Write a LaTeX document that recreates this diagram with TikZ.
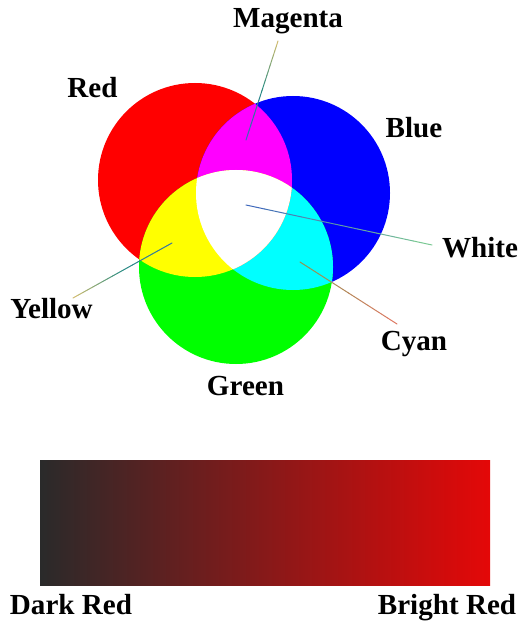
\documentclass[tikz,border=0pt]{standalone}
\usepackage{fontspec}
\setmainfont{Liberation Serif}
\usetikzlibrary{calc}
\definecolor{redlight}{RGB}{255,0,0}
\definecolor{greenlight}{RGB}{0,255,0}
\definecolor{bluelight}{RGB}{0,0,255}
\definecolor{magentalight}{RGB}{255,0,255}
\definecolor{yellowlight}{RGB}{255,255,0}
\definecolor{cyanlight}{RGB}{0,255,255}
\definecolor{darkend}{RGB}{42,42,42}
\definecolor{midend}{RGB}{118,26,28}
\definecolor{brightend}{RGB}{228,8,8}
\definecolor{tanline}{RGB}{215,190,110}
\definecolor{tealline}{RGB}{40,140,130}
\definecolor{blueline}{RGB}{60,100,190}
\definecolor{greenline}{RGB}{125,205,145}
\definecolor{oliveline}{RGB}{140,150,80}
\definecolor{salmonline}{RGB}{225,120,100}
\tikzset{
  lbl/.style={font=\bfseries\fontsize{29.2}{35}\selectfont, anchor=base, inner sep=0pt},
  disc/.style={radius=97bp}
}
% thin line from #1 to #2, colour going from #3 to #4
\newcommand{\fadeline}[4]{%
  \foreach \k in {0,...,9}{%
    \pgfmathsetmacro{\pa}{\k/10}\pgfmathsetmacro{\pb}{(\k+1)/10}%
    \pgfmathtruncatemacro{\pc}{95-10*\k}%
    \draw[#3!\pc!#4] ($(#1)!\pa!(#2)$) -- ($(#1)!\pb!(#2)$);}}
\begin{document}
\begin{tikzpicture}[x=1bp, y=-1bp, line width=1bp, line cap=round]
  \useasboundingbox (0,0) rectangle (530,626);
  \path (195,180) coordinate (R)
        (293,193) coordinate (B)
        (236,267) coordinate (G);
  % the three lights
  \fill[redlight] (R) circle[disc];
  \fill[bluelight] (B) circle[disc];
  \fill[greenlight] (G) circle[disc];
  \begin{scope}
    \clip (B) circle[disc];
    \fill[cyanlight] (G) circle[disc];
  \end{scope}
  \begin{scope}
    \clip (R) circle[disc];
    \fill[magentalight] (B) circle[disc];
    \fill[yellowlight] (G) circle[disc];
    \clip (B) circle[disc];
    \fill[white] (G) circle[disc];
  \end{scope}
  % labels
  \node[lbl] (magenta) at (288,28) {Magenta};
  \node[lbl] (redl) at (92.5,98) {Red};
  \node[lbl] (bluel) at (414,138) {Blue};
  \node[lbl] (whitel) at (480,257) {White};
  \node[lbl] (yellowl) at (51.5,318) {Yellow};
  \node[lbl] (cyanl) at (414,350) {Cyan};
  \node[lbl] (greenl) at (245.5,395) {Green};
  % pointers
  \path (278,41) coordinate (m1) (246,140) coordinate (m2)
        ($(m1)!0.5!(m2)$) coordinate (mm)
        (73,298) coordinate (y1) (172,243) coordinate (y2)
        ($(y1)!0.5!(y2)$) coordinate (ym)
        (246,205) coordinate (w1) (432,245) coordinate (w2)
        (300,262) coordinate (c1) (397,324) coordinate (c2);
  \fadeline{m1}{mm}{tanline}{tealline}
  \fadeline{mm}{m2}{tealline}{blueline}
  \fadeline{y1}{ym}{tanline}{tealline}
  \fadeline{ym}{y2}{tealline}{blueline!70!tealline}
  \fadeline{w1}{w2}{blueline}{greenline}
  \fadeline{c1}{c2}{oliveline}{salmonline}
  % brightness bar
  \shade[left color=darkend, middle color=midend, right color=brightend] (40,460) rectangle (490,585);
  \node[lbl] (dark) at (71,614) {Dark Red};
  \node[lbl] (bright) at (447,614) {Bright Red};
\end{tikzpicture}
\end{document}
